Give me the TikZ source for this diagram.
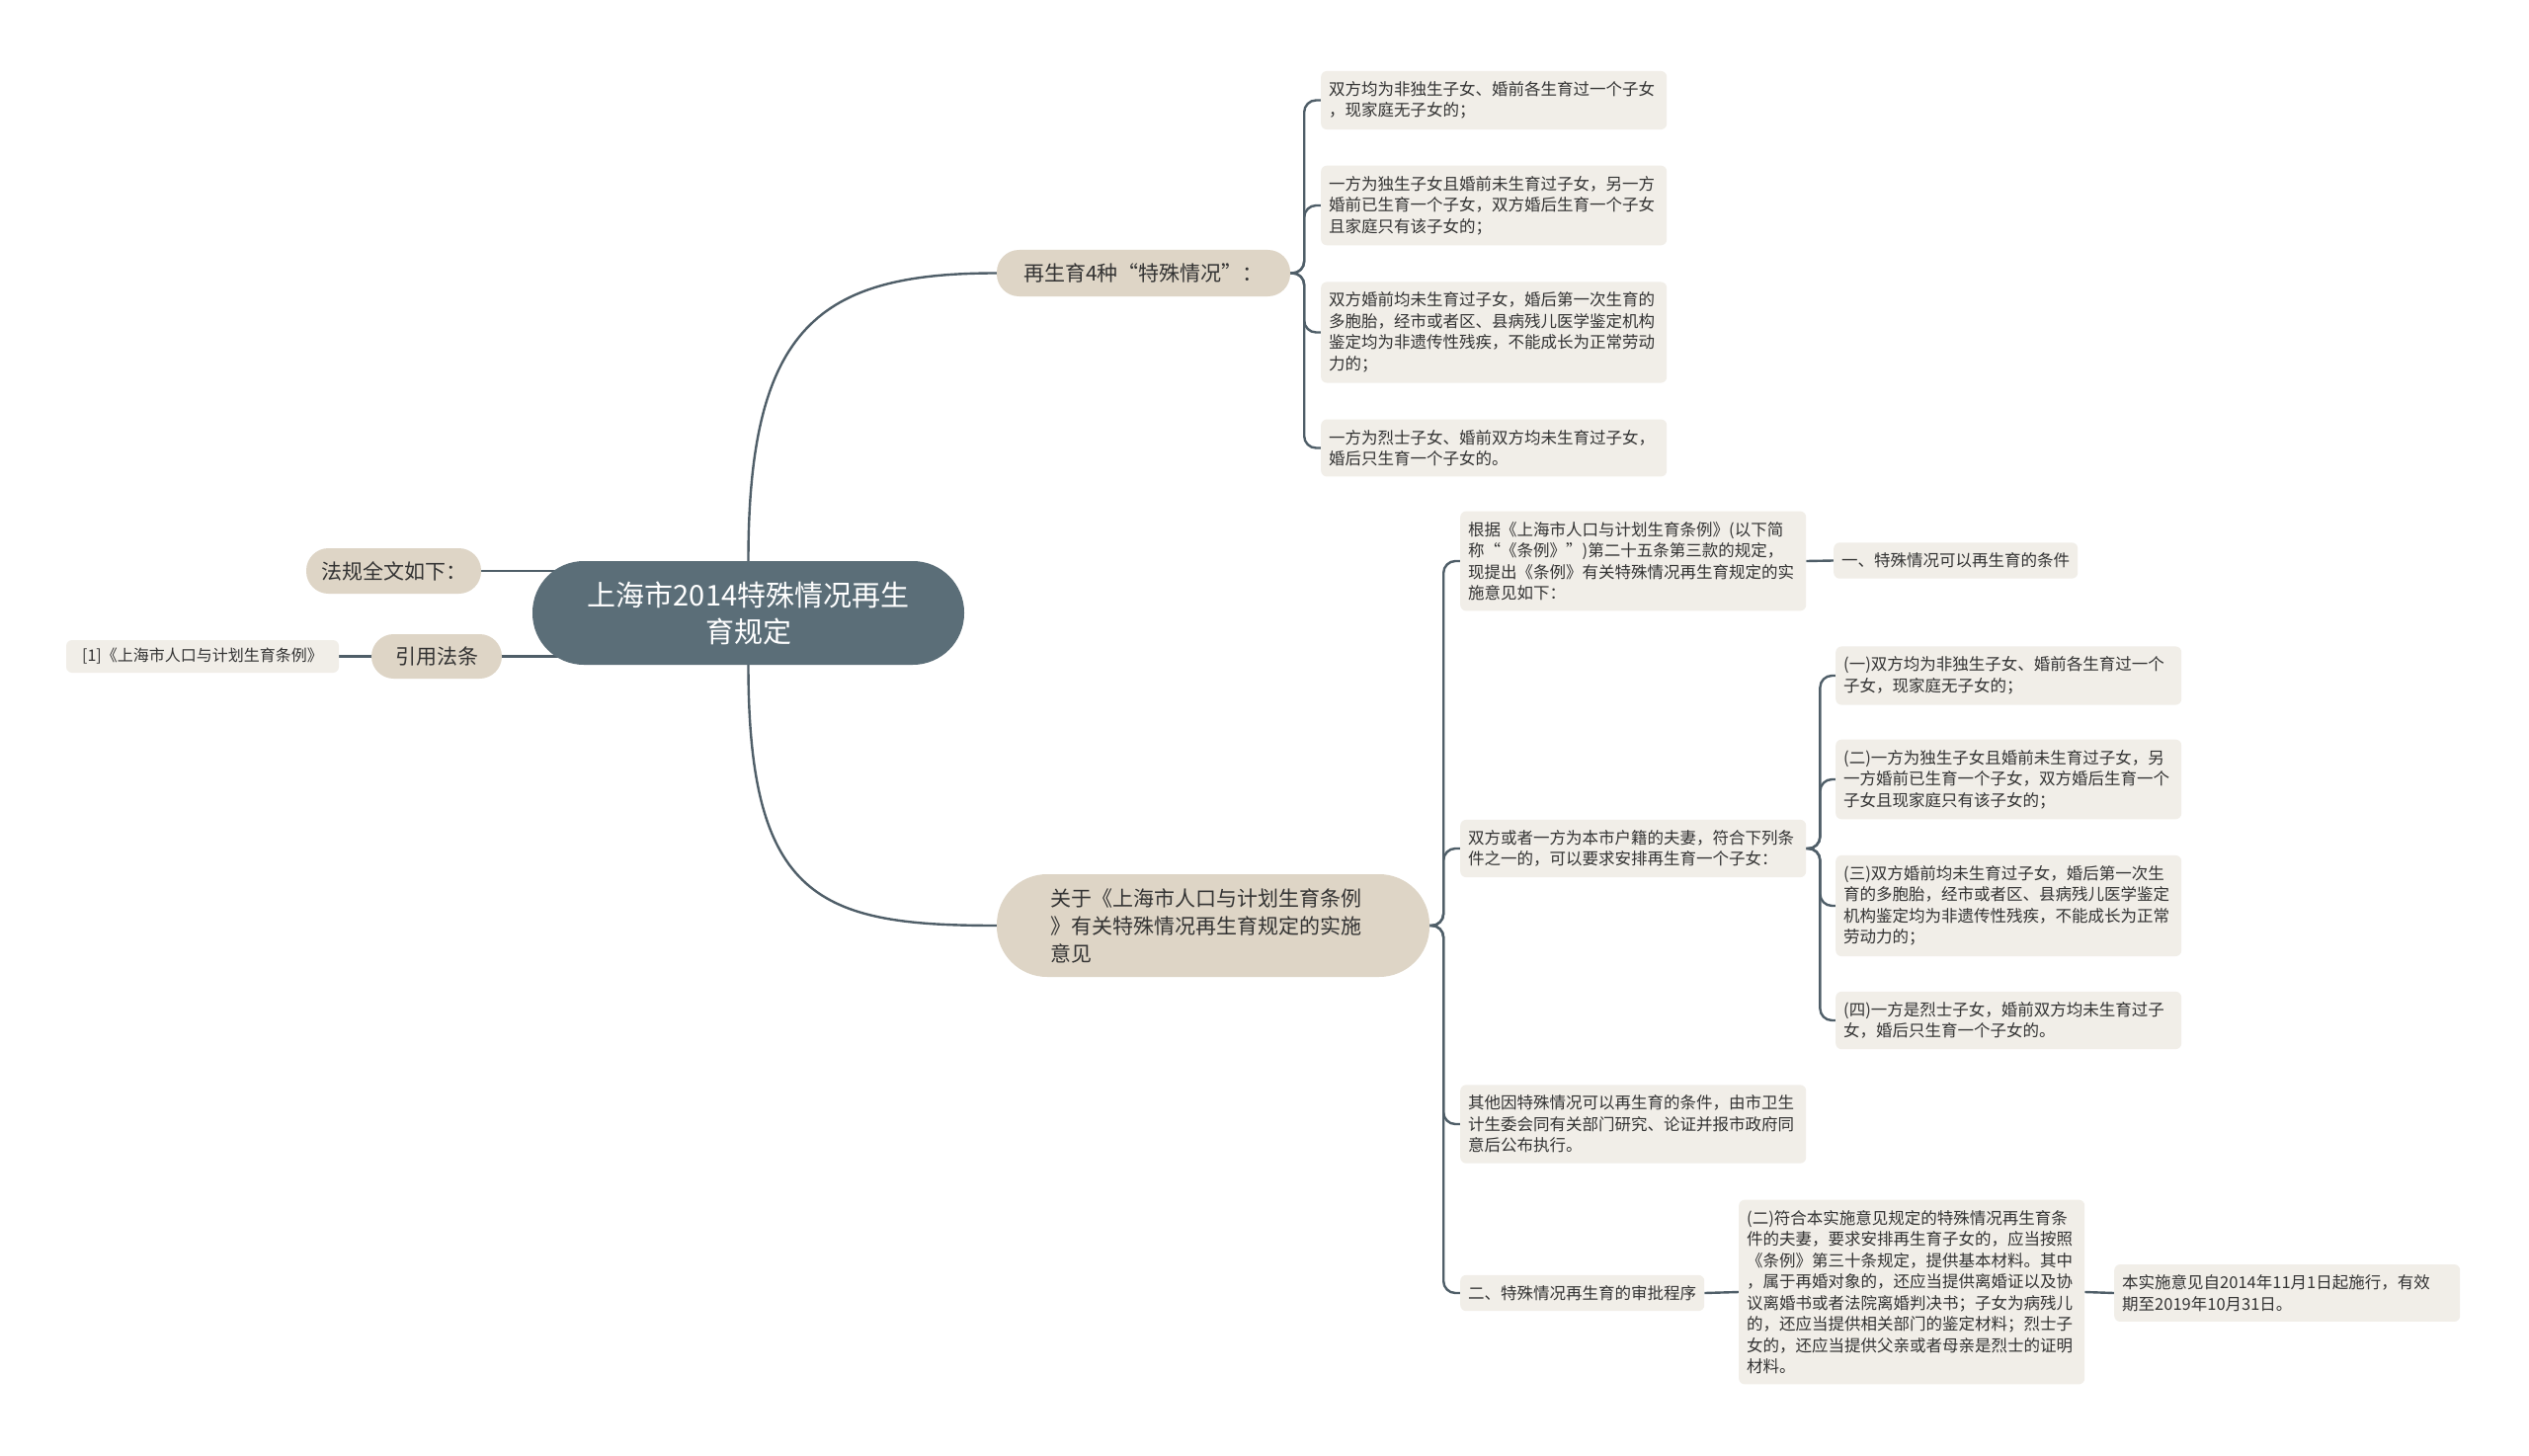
\documentclass[tikz,border=0pt]{standalone}
\usepackage{fontspec}
\setmainfont{Noto Sans CJK SC}
\usetikzlibrary{backgrounds}
\definecolor{linec}{HTML}{4F5E68}
\definecolor{ctrc}{HTML}{5B6E78}
\definecolor{beigec}{HTML}{DED5C6}
\definecolor{leafc}{HTML}{F1EEE8}
\definecolor{txt}{HTML}{333333}
\tikzset{
  conn/.style={draw=linec, line width=2.4pt},
  ctr/.style={fill=ctrc, text=white, rounded corners=52pt, minimum width=437pt, minimum height=105pt,
    inner sep=0pt, align=center, font=\fontsize{29}{37}\selectfont},
  beige/.style={fill=beigec, text=txt, rounded corners=22.5pt, inner sep=0pt,
    font=\fontsize{21}{28}\selectfont},
  leafnat/.style={fill=leafc, text=txt, rounded corners=6pt, inner xsep=8pt, inner ysep=10.5pt,
    font=\fontsize{16.5}{21.5}\selectfont, anchor=west},
  leafbox/.style={leafnat, text width=334pt, align=left},
}
\begin{document}
\begin{tikzpicture}[x=1pt,y=-1pt]
\useasboundingbox (0,0) rectangle (2560,1474);
% root
\node[ctr] (center) at (757.5,620.5) {上海市2014特殊情况再生\\育规定};
% left side
\node[beige, minimum width=177pt, minimum height=46pt] (law) at (398.5,578) {法规全文如下：};
\node[beige, minimum width=132pt, minimum height=45pt] (cite) at (442,664.5) {引用法条};
\node[leafnat, anchor=center, font=\fontsize{16}{20}\selectfont, minimum width=276pt, minimum height=33pt, inner ysep=0pt] (ref1) at (205,664.5) {[1]《上海市人口与计划生育条例》};
% upper branch
\node[beige, minimum width=297pt, minimum height=47pt] (special) at (1157.5,276.5) {再生育4种“特殊情况”：};
\node[leafbox] (s1) at (1337,101.5) {双方均为非独生子女、婚前各生育过一个子女\\，现家庭无子女的；};
\node[leafbox] (s2) at (1337,208) {一方为独生子女且婚前未生育过子女，另一方\\婚前已生育一个子女，双方婚后生育一个子女\\且家庭只有该子女的；};
\node[leafbox] (s3) at (1337,336.5) {双方婚前均未生育过子女，婚后第一次生育的\\多胞胎，经市或者区、县病残儿医学鉴定机构\\鉴定均为非遗传性残疾，不能成长为正常劳动\\力的；};
\node[leafbox] (s4) at (1337,453.5) {一方为烈士子女、婚前双方均未生育过子女，\\婚后只生育一个子女的。};
% lower branch
\node[beige, minimum width=438pt, minimum height=104pt, rounded corners=51pt, text width=330pt, align=left] (guide) at (1228,937) {关于《上海市人口与计划生育条例\\》有关特殊情况再生育规定的实施\\意见};
\node[leafbox] (A) at (1478,568) {根据《上海市人口与计划生育条例》(以下简\\称“《条例》”)第二十五条第三款的规定，\\现提出《条例》有关特殊情况再生育规定的实\\施意见如下：};
\node[leafnat] (A1) at (1856,567.5) {一、特殊情况可以再生育的条件};
\node[leafbox] (B) at (1478,859) {双方或者一方为本市户籍的夫妻，符合下列条\\件之一的，可以要求安排再生育一个子女：};
\node[leafbox] (b1) at (1858,684) {(一)双方均为非独生子女、婚前各生育过一个\\子女，现家庭无子女的；};
\node[leafbox] (b2) at (1858,789) {(二)一方为独生子女且婚前未生育过子女，另\\一方婚前已生育一个子女，双方婚后生育一个\\子女且现家庭只有该子女的；};
\node[leafbox] (b3) at (1858,917) {(三)双方婚前均未生育过子女，婚后第一次生\\育的多胞胎，经市或者区、县病残儿医学鉴定\\机构鉴定均为非遗传性残疾，不能成长为正常\\劳动力的；};
\node[leafbox] (b4) at (1858,1033) {(四)一方是烈士子女，婚前双方均未生育过子\\女，婚后只生育一个子女的。};
\node[leafbox] (C) at (1478,1138) {其他因特殊情况可以再生育的条件，由市卫生\\计生委会同有关部门研究、论证并报市政府同\\意后公布执行。};
\node[leafnat] (D) at (1478,1309) {二、特殊情况再生育的审批程序};
\node[leafbox] (E) at (1760,1308) {(二)符合本实施意见规定的特殊情况再生育条\\件的夫妻，要求安排再生育子女的，应当按照\\《条例》第三十条规定，提供基本材料。其中\\，属于再婚对象的，还应当提供离婚证以及协\\议离婚书或者法院离婚判决书；子女为病残儿\\的，还应当提供相关部门的鉴定材料；烈士子\\女的，还应当提供父亲或者母亲是烈士的证明\\材料。};
\node[leafbox] (F) at (2140,1309) {本实施意见自2014年11月1日起施行，有效\\期至2019年10月31日。};
% connectors
\begin{scope}[on background layer]
\fill[white] (0,0) rectangle (2560,1474);
\draw[conn] (center.north) .. controls +(0,-238) and +(-179,0) .. (special.west);
\draw[conn] (center.south) .. controls +(0,238) and +(-179,0) .. (guide.west);
\draw[conn] (law.east) -- (law.east -| center);
\draw[conn] (cite.east) -- (cite.east -| center);
\draw[conn] (ref1.east) -- (cite.west);
\foreach \n in {s1,s2,s3,s4}
  \draw[conn, rounded corners=12pt] (special.east) -- ++(14,0) |- (\n.west);
\foreach \n in {A,B,C,D}
  \draw[conn, rounded corners=12pt] (guide.east) -- ++(14,0) |- (\n.west);
\foreach \n in {b1,b2,b3,b4}
  \draw[conn, rounded corners=12pt] (B.east) -- ++(14,0) |- (\n.west);
\draw[conn] (A.east) -- (A1.west);
\draw[conn] (D.east) -- (E.west);
\draw[conn] (E.east) -- (F.west);
\end{scope}
\end{tikzpicture}
\end{document}
